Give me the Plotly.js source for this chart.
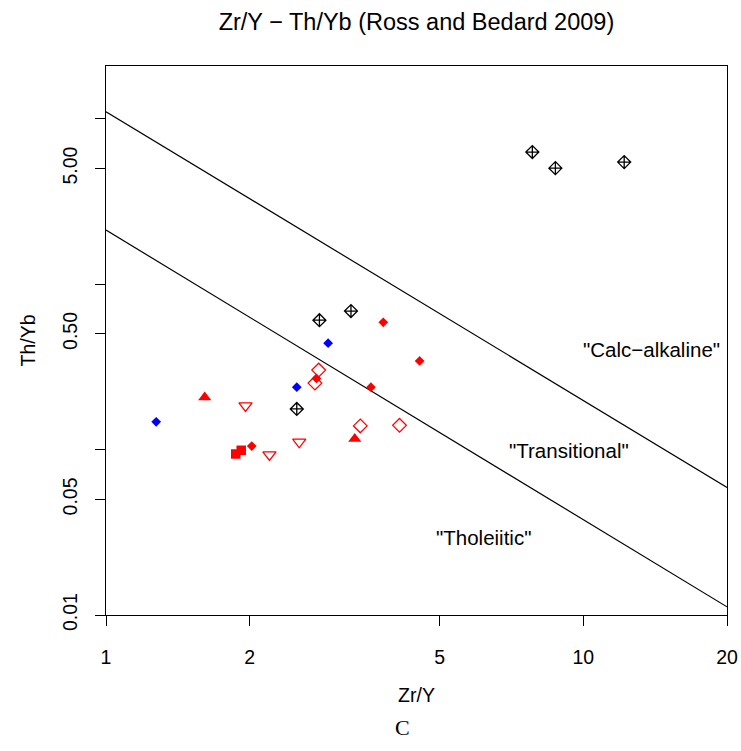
<!DOCTYPE html>
<html>
<head>
<meta charset="utf-8">
<script src="https://cdn.plot.ly/plotly-3.0.1.min.js"></script>
<style>html,body{margin:0;padding:0;background:#fff;}#chart{width:741px;height:751px;}</style>
</head>
<body>
<div id="chart"></div>
<script>
// Data (Zr/Y, Th/Yb)
var blackX = [7.82, 8.74, 12.18, 2.80, 3.26, 2.51];
var blackY = [6.28, 5.02, 5.46, 0.605, 0.687, 0.176];
var blueX = [2.92, 2.51, 1.274];
var blueY = [0.439, 0.238, 0.147];
var redDiaX = [3.81, 4.54, 3.59, 2.76, 2.02];
var redDiaY = [0.587, 0.343, 0.238, 0.269, 0.105];
var redOpenDiaX = [2.79, 2.74, 3.41, 4.12];
var redOpenDiaY = [0.302, 0.252, 0.139, 0.140];
var redTriX = [1.61, 3.32];
var redTriY = [0.207, 0.116];
var redDownX = [1.96, 2.54, 2.20];
var redDownY = [0.184, 0.111, 0.093];
var redSqX = [1.87, 1.92];
var redSqY = [0.094, 0.099];
// Boundary lines
var lineX = [1, 20];
var upperY = [11.0, 0.059];
var lowerY = [2.12, 0.0112];
// Ticks
var xTicks = [1, 2, 5, 10, 20];
var xTickText = ["1", "2", "5", "10", "20"];
var yTicks = [0.01, 0.05, 0.1, 0.5, 1, 5, 10];
var yTickText = ["0.01", "0.05", "", "0.50", "", "5.00", ""];
var fieldLabels = ['"Calc\u2212alkaline"', '"Transitional"', '"Tholeiitic"'];
var fieldX = [13.9, 9.35, 6.18];
var fieldY = [0.405, 0.0993, 0.0296];

var FONT = "Liberation Sans, Arial, sans-serif";
var traces = [
  {x: lineX, y: upperY, mode: 'lines', line: {color: '#000', width: 1.2}},
  {x: lineX, y: lowerY, mode: 'lines', line: {color: '#000', width: 1.2}},
  {x: blackX, y: blackY, mode: 'markers', marker: {symbol: 'diamond-cross-open', size: 10, color: '#000', line: {color: '#000', width: 1.3}}},
  {x: blueX, y: blueY, mode: 'markers', marker: {symbol: 'diamond', size: 7.5, color: '#0000FF', line: {width: 0}}},
  {x: redDiaX, y: redDiaY, mode: 'markers', marker: {symbol: 'diamond', size: 7.5, color: '#FF0000', line: {width: 0}}},
  {x: redOpenDiaX, y: redOpenDiaY, mode: 'markers', marker: {symbol: 'diamond-open', size: 10.5, color: '#FF0000', line: {color: '#FF0000', width: 1.3}}},
  {x: redTriX, y: redTriY, mode: 'markers', marker: {symbol: 'triangle-up', size: 11.5, color: '#FF0000', line: {width: 0}}},
  {x: redDownX, y: redDownY, mode: 'markers', marker: {symbol: 'triangle-down-open', size: 11.5, color: '#FF0000', line: {color: '#FF0000', width: 1.3}}},
  {x: redSqX, y: redSqY, mode: 'markers', marker: {symbol: 'square', size: 9.5, color: '#FF0000', line: {width: 0}}}
];
traces.forEach(function(t){ t.type = 'scatter'; t.showlegend = false; t.hoverinfo = 'skip'; });

var annotations = fieldLabels.map(function(txt, i){
  return {x: Math.log10(fieldX[i]), y: Math.log10(fieldY[i]), xref: 'x', yref: 'y', text: txt, showarrow: false,
          font: {family: FONT, size: 20.5, color: '#000'}, xanchor: 'center', yanchor: 'middle'};
});
annotations.push({x: (402 - 106) / 621, y: -(727 - 615) / 549, xref: 'paper', yref: 'paper', text: 'C', showarrow: false,
  font: {family: 'Liberation Serif, Times New Roman, serif', size: 22, color: '#000'}, xanchor: 'center', yanchor: 'middle'});

var layout = {
  width: 741, height: 751,
  margin: {l: 106, r: 14, t: 66, b: 136, pad: 0},
  paper_bgcolor: '#fff', plot_bgcolor: '#fff',
  font: {family: FONT, size: 19, color: '#000'},
  title: {text: 'Zr/Y \u2212 Th/Yb (Ross and Bedard 2009)', font: {family: FONT, size: 23.5, color: '#000'}, x: 0.562, xanchor: 'center', y: 0.971, yanchor: 'middle'},
  xaxis: {type: 'log', range: [0, Math.log10(20)], tickvals: xTicks, ticktext: xTickText, ticks: 'outside', ticklen: 10, tickwidth: 1, tickcolor: '#000',
          showline: true, linecolor: '#000', linewidth: 1, mirror: true, showgrid: false, zeroline: false, ticklabelstandoff: 15,
          tickfont: {family: FONT, size: 19.5}, title: {text: 'Zr/Y', font: {family: FONT, size: 19.5}, standoff: 20}},
  yaxis: {type: 'log', range: [-2, 1.318], tickvals: yTicks, ticktext: yTickText, ticks: 'outside', ticklen: 10, tickwidth: 1, tickcolor: '#000',
          showline: true, linecolor: '#000', linewidth: 1, mirror: true, showgrid: false, zeroline: false, tickangle: -90, ticklabelstandoff: 10,
          tickfont: {family: FONT, size: 19.5}, title: {text: 'Th/Yb', font: {family: FONT, size: 19.5}, standoff: 18}},
  annotations: annotations,
  showlegend: false
};
Plotly.newPlot('chart', traces, layout, {staticPlot: true, displayModeBar: false});
</script>
</body>
</html>
